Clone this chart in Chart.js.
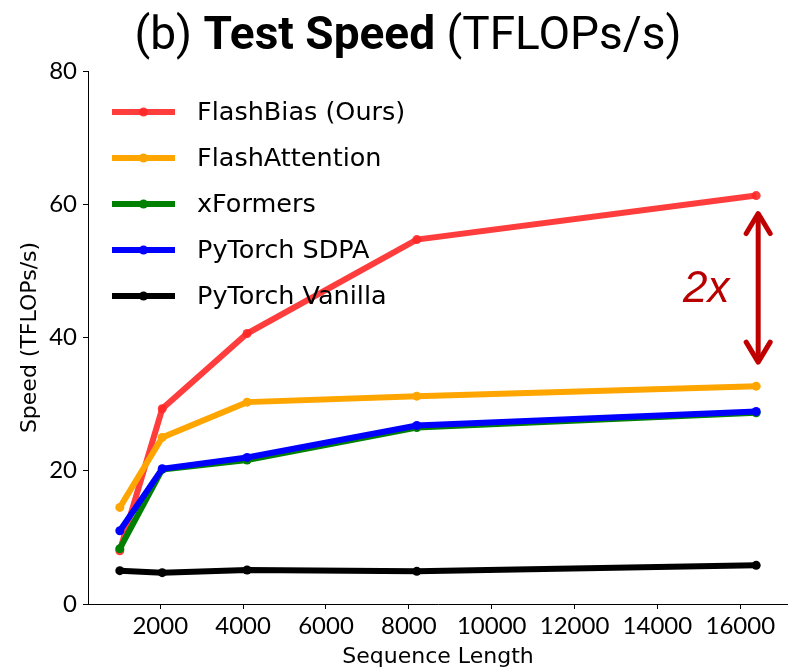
<!DOCTYPE html>
<html>
<head>
<meta charset="utf-8">
<script src="https://cdn.jsdelivr.net/npm/chart.js@4/dist/chart.umd.min.js"></script>
<style>
  html, body { margin: 0; padding: 0; background: #fff; }
  #wrap { position: relative; width: 788px; height: 669px; }
  #title {
    position: absolute; top: 5px; left: 0; width: 816px; text-align: center;
    font-family: Roboto, "Liberation Sans", sans-serif; font-size: 46px; color: #000;
    line-height: 56px; white-space: nowrap;
  }
  #title b { font-weight: bold; }
  canvas { position: absolute; left: 0; top: 0; }
</style>
</head>
<body>
<div id="wrap">
  <canvas id="lineChart" width="788" height="669"></canvas>
  <div id="title">(b) <b>Test Speed</b> (TFLOPs/s)</div>
</div>
<script>
const seqLengths = [1024, 2048, 4096, 8192, 16384];
const flashBias = [8.0, 29.3, 40.6, 54.7, 61.3];
const flashAttention = [14.5, 25.0, 30.3, 31.2, 32.7];
const xFormers = [8.3, 20.2, 21.6, 26.5, 28.7];
const pytorchSdpa = [11.0, 20.3, 22.0, 26.8, 28.9];
const pytorchVanilla = [5.0, 4.7, 5.1, 4.9, 5.8];
const xTicks = [2000, 4000, 6000, 8000, 10000, 12000, 14000, 16000];
const yTicks = [0, 20, 40, 60, 80];

const TICK_FONT = 'Lato, "DejaVu Sans", sans-serif';
const TEXT_FONT = '"DejaVu Sans", sans-serif';

const series = [
    { label: 'FlashBias (Ours)', data: flashBias, color: 'rgba(255, 40, 40, 0.9)', order: 5 },
    { label: 'FlashAttention', data: flashAttention, color: '#FFA500', order: 4 },
    { label: 'xFormers', data: xFormers, color: '#008000', order: 3 },
    { label: 'PyTorch SDPA', data: pytorchSdpa, color: '#0000FF', order: 2 },
    { label: 'PyTorch Vanilla', data: pytorchVanilla, color: '#000000', order: 1 }
];

// legend drawn inside the plot, upper left
const insideLegend = {
    id: 'insideLegend',
    afterDatasetsDraw(chart) {
        const ctx = chart.ctx;
        ctx.save();
        chart.data.datasets.forEach((ds, i) => {
            const y = 112 + i * 46;
            ctx.strokeStyle = ds.borderColor;
            ctx.lineWidth = 6;
            ctx.beginPath();
            ctx.moveTo(112, y);
            ctx.lineTo(175, y);
            ctx.stroke();
            ctx.fillStyle = ds.borderColor;
            ctx.beginPath();
            ctx.arc(143.5, y, 4.5, 0, Math.PI * 2);
            ctx.fill();
            ctx.fillStyle = '#000';
            ctx.font = '25.5px ' + TEXT_FONT;
            ctx.textBaseline = 'middle';
            ctx.fillText(ds.label, 197, y + 1);
        });
        ctx.restore();
    }
};

// "2x" double arrow between FlashBias and FlashAttention at the last point
const gapArrow = {
    id: 'gapArrow',
    afterDatasetsDraw(chart) {
        const { ctx, scales: { x, y } } = chart;
        const last = seqLengths.length - 1;
        const ax = x.getPixelForValue(seqLengths[last]) + 2;
        const yTop = y.getPixelForValue(flashBias[last]) + 18;
        const yBot = y.getPixelForValue(flashAttention[last]) - 24;
        ctx.save();
        ctx.strokeStyle = '#C00000';
        ctx.lineWidth = 5;
        ctx.lineCap = 'round';
        ctx.lineJoin = 'round';
        ctx.beginPath();
        ctx.moveTo(ax, yTop + 4);
        ctx.lineTo(ax, yBot - 4);
        ctx.stroke();
        ctx.beginPath();
        ctx.moveTo(ax - 12, yTop + 20);
        ctx.lineTo(ax, yTop);
        ctx.lineTo(ax + 12, yTop + 20);
        ctx.stroke();
        ctx.beginPath();
        ctx.moveTo(ax - 12, yBot - 20);
        ctx.lineTo(ax, yBot);
        ctx.lineTo(ax + 12, yBot - 20);
        ctx.stroke();
        ctx.fillStyle = '#B80000';
        ctx.font = 'italic 44px "Liberation Sans", sans-serif';
        ctx.textAlign = 'center';
        ctx.textBaseline = 'middle';
        ctx.fillText('2x', ax - 52, (yTop + yBot) / 2 + 2);
        ctx.restore();
    }
};

const ctx = document.getElementById('lineChart').getContext('2d');
new Chart(ctx, {
    type: 'line',
    data: {
        datasets: series.map(s => ({
            label: s.label,
            data: seqLengths.map((v, i) => ({ x: v, y: s.data[i] })),
            borderColor: s.color,
            backgroundColor: s.color,
            borderWidth: 6,
            pointRadius: 4.5,
            pointHoverRadius: 4.5,
            pointBorderWidth: 0,
            order: s.order,
            tension: 0
        }))
    },
    options: {
        responsive: false,
        animation: false,
        layout: { autoPadding: false, padding: { top: 71, left: 0, right: 0, bottom: 0 } },
        plugins: {
            legend: { display: false },
            tooltip: { enabled: false }
        },
        scales: {
            x: {
                type: 'linear',
                min: 256,
                max: 17152,
                afterBuildTicks: s => { s.ticks = xTicks.map(v => ({ value: v })); },
                afterFit: s => { s.height = 65; },
                ticks: {
                    color: '#000',
                    font: { family: TICK_FONT, size: 24 },
                    padding: 3,
                    maxRotation: 0,
                    autoSkip: false,
                    callback: v => String(v)
                },
                grid: { drawOnChartArea: false, drawTicks: true, tickLength: 5, tickColor: '#000' },
                border: { display: true, color: '#000', width: 1 },
                title: {
                    display: true,
                    text: 'Sequence Length',
                    color: '#000',
                    font: { family: TEXT_FONT, size: 22 },
                    padding: { top: 0, bottom: -1 }
                }
            },
            y: {
                min: 0,
                max: 80,
                afterBuildTicks: s => { s.ticks = yTicks.map(v => ({ value: v })); },
                afterFit: s => { s.width = 88; },
                ticks: {
                    color: '#000',
                    font: { family: TICK_FONT, size: 24 },
                    padding: 6,
                    callback: v => String(v)
                },
                grid: { drawOnChartArea: false, drawTicks: true, tickLength: 5, tickColor: '#000' },
                border: { display: true, color: '#000', width: 1 },
                title: {
                    display: true,
                    text: 'Speed (TFLOPs/s)',
                    color: '#000',
                    font: { family: TEXT_FONT, size: 22 },
                    padding: { top: 17, bottom: 0 }
                }
            }
        }
    },
    plugins: [insideLegend, gapArrow]
});
</script>
</body>
</html>
